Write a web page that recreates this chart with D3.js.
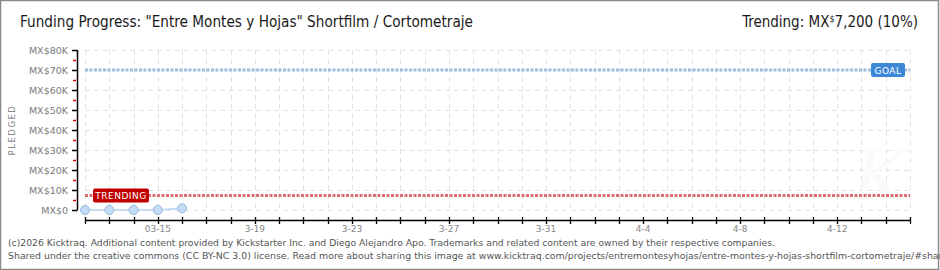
<!DOCTYPE html>
<html><head><meta charset="utf-8">
<script src="https://cdn.jsdelivr.net/npm/d3@7"></script>
<style>
html,body{margin:0;padding:0;background:#fff;}
svg{display:block;}
</style></head>
<body>
<svg id="c" width="940" height="270"></svg>
<script>
// ---- data ----
const dates = ["2026-03-12","2026-03-13","2026-03-14","2026-03-15","2026-03-16"];
const pledged = [0, 0, 0, 0, 850];
const goal = 70000;
const trending = 7200;
const xTickLabels = ["03-15","3-19","3-23","3-27","3-31","4-4","4-8","4-12"];
const xTickDates = ["2026-03-15","2026-03-19","2026-03-23","2026-03-27","2026-03-31","2026-04-04","2026-04-08","2026-04-12"];
const yTicks = [0,10000,20000,30000,40000,50000,60000,70000,80000];
const yTickLabels = ["MX$0","MX$10K","MX$20K","MX$30K","MX$40K","MX$50K","MX$60K","MX$70K","MX$80K"];
const domainStart = "2026-03-12", domainEnd = "2026-04-15";

const svg = d3.select("#c");
const W = 940, H = 270;
const parse = d3.utcParse("%Y-%m-%d");

// border
svg.append("rect").attr("x",0.5).attr("y",0.5).attr("width",W-2).attr("height",H-1)
  .attr("fill","#fff").attr("stroke","#8a8a8a").attr("stroke-width",1.5);

const x = d3.scaleUtc().domain([parse(domainStart), parse(domainEnd)]).range([85, 910]);
const y = d3.scaleLinear().domain([0, 80000]).range([210, 50]);

const days = d3.utcDay.range(parse(domainStart), d3.utcDay.offset(parse(domainEnd),1));

// grid
const g = svg.append("g");
g.selectAll("line.vg").data(days).join("line")
  .attr("x1",d=>Math.round(x(d))+0.5).attr("x2",d=>Math.round(x(d))+0.5)
  .attr("y1",y(80000)).attr("y2",y(0))
  .attr("stroke","#e2e2e2").attr("stroke-width",1).attr("stroke-dasharray","5,4");
g.selectAll("line.hg").data(yTicks).join("line")
  .attr("x1",85).attr("x2",910)
  .attr("y1",d=>Math.round(y(d))+0.5).attr("y2",d=>Math.round(y(d))+0.5)
  .attr("stroke","#e2e2e2").attr("stroke-width",1).attr("stroke-dasharray","5,4");

// watermark
svg.append("text").attr("x",880).attr("y",200).attr("text-anchor","middle")
  .attr("font-family","DejaVu Serif").attr("font-style","italic").attr("font-size",70)
  .attr("fill","#fafafa").text("K");

// goal line
svg.append("line").attr("x1",85).attr("x2",910).attr("y1",y(goal)).attr("y2",y(goal))
  .attr("stroke","#9dbde3").attr("stroke-width",3).attr("stroke-dasharray","3,1.5");
// trending line
svg.append("line").attr("x1",85).attr("x2",910).attr("y1",y(trending)).attr("y2",y(trending))
  .attr("stroke","#dc6e74").attr("stroke-width",3).attr("stroke-dasharray","3,1.5");

// goal label
svg.append("rect").attr("x",871).attr("y",y(goal)-7).attr("width",34).attr("height",14).attr("rx",2)
  .attr("fill","#3c87d6");
svg.append("text").attr("x",888).attr("y",y(goal)+3.5).attr("text-anchor","middle")
  .attr("font-family","DejaVu Sans").attr("font-size",9).attr("fill","#fff").attr("letter-spacing",0.5).text("GOAL");
// trending label
svg.append("rect").attr("x",93).attr("y",y(trending)-7).attr("width",56).attr("height",14).attr("rx",2)
  .attr("fill","#c00000");
svg.append("text").attr("x",121).attr("y",y(trending)+3.5).attr("text-anchor","middle")
  .attr("font-family","DejaVu Sans").attr("font-size",9).attr("fill","#fff").attr("letter-spacing",0.5).text("TRENDING");

// y axis
const ya = svg.append("g").attr("transform","translate(77,0)");
ya.append("line").attr("x1",0.5).attr("x2",0.5).attr("y1",y(80000)).attr("y2",y(0)).attr("stroke","#000").attr("stroke-width",1.5);
ya.selectAll("line.mt").data(yTicks).join("line")
  .attr("x1",-5).attr("x2",0.5).attr("y1",d=>Math.round(y(d))+0.5).attr("y2",d=>Math.round(y(d))+0.5)
  .attr("stroke","#000").attr("stroke-width",1.5);
ya.selectAll("line.mn").data(d3.range(5000,80000,10000)).join("line")
  .attr("x1",-4).attr("x2",-1).attr("y1",d=>Math.round(y(d))+0.5).attr("y2",d=>Math.round(y(d))+0.5)
  .attr("stroke","#e00000").attr("stroke-width",1.5);
ya.selectAll("text").data(yTicks).join("text")
  .attr("x",-9).attr("y",d=>y(d)+4).attr("text-anchor","end")
  .attr("font-family","DejaVu Sans").attr("font-size",9.5).attr("fill","#7a7a7a")
  .text((d,i)=>yTickLabels[i]);

svg.append("text").attr("transform","translate(15,130) rotate(-90)").attr("text-anchor","middle")
  .attr("font-family","DejaVu Sans").attr("font-size",8.5).attr("fill","#888").attr("letter-spacing",1.5)
  .text("PLEDGED");

// x axis
const xa = svg.append("g").attr("transform","translate(0,220)");
xa.append("line").attr("x1",85).attr("x2",910.5).attr("y1",0.5).attr("y2",0.5).attr("stroke","#000").attr("stroke-width",1.5);
xa.selectAll("line.t").data(days).join("line")
  .attr("x1",d=>Math.round(x(d))+0.5).attr("x2",d=>Math.round(x(d))+0.5).attr("y1",-3).attr("y2",4)
  .attr("stroke","#000").attr("stroke-width",1.3);
xa.selectAll("text").data(xTickDates).join("text")
  .attr("x",d=>x(parse(d))).attr("y",12).attr("text-anchor","middle")
  .attr("font-family","DejaVu Sans").attr("font-size",9).attr("fill","#888")
  .text((d,i)=>xTickLabels[i]);

// data line
const pts = dates.map((d,i)=>({d:parse(d), v:pledged[i]}));
svg.append("path").datum(pts)
  .attr("d", d3.line().x(p=>x(p.d)).y(p=>y(p.v)))
  .attr("fill","none").attr("stroke","#c5dcf5").attr("stroke-width",2);
svg.selectAll("circle.p").data(pts).join("circle")
  .attr("cx",p=>x(p.d)).attr("cy",p=>y(p.v)).attr("r",4.5)
  .attr("fill","#c3dcf6").attr("stroke","#98b8dc").attr("stroke-width",1);

// titles
svg.append("text").attr("x",20).attr("y",27)
  .attr("font-family","DejaVu Sans Condensed, DejaVu Sans").attr("font-size",15).attr("fill","#1a1a1a")
  .attr("textLength",453).attr("lengthAdjust","spacingAndGlyphs")
  .text('Funding Progress: "Entre Montes y Hojas" Shortfilm / Cortometraje');
const tr = svg.append("text").attr("x",918).attr("y",27).attr("text-anchor","end")
  .attr("font-family","DejaVu Sans Condensed, DejaVu Sans").attr("font-size",15).attr("fill","#1a1a1a");
tr.append("tspan").text("Trending: MX");
tr.append("tspan").attr("font-size",9).attr("dy",-5).text("$");
tr.append("tspan").attr("dy",5).text("7,200 (10%)");

// footer
svg.append("text").attr("x",8).attr("y",246)
  .attr("font-family","Verdana, DejaVu Sans").attr("font-size",9.25).attr("fill","#555")
  .attr("textLength",767).attr("lengthAdjust","spacingAndGlyphs")
  .text("(c)2026 Kicktraq. Additional content provided by Kickstarter Inc. and Diego Alejandro Apo. Trademarks and related content are owned by their respective companies.");
svg.append("text").attr("x",8).attr("y",259)
  .attr("font-family","Verdana, DejaVu Sans").attr("font-size",9.25).attr("fill","#555")
  .attr("textLength",940).attr("lengthAdjust","spacingAndGlyphs")
  .text("Shared under the creative commons (CC BY-NC 3.0) license. Read more about sharing this image at www.kicktraq.com/projects/entremontesyhojas/entre-montes-y-hojas-shortfilm-cortometraje/#share");
</script>
</body></html>
